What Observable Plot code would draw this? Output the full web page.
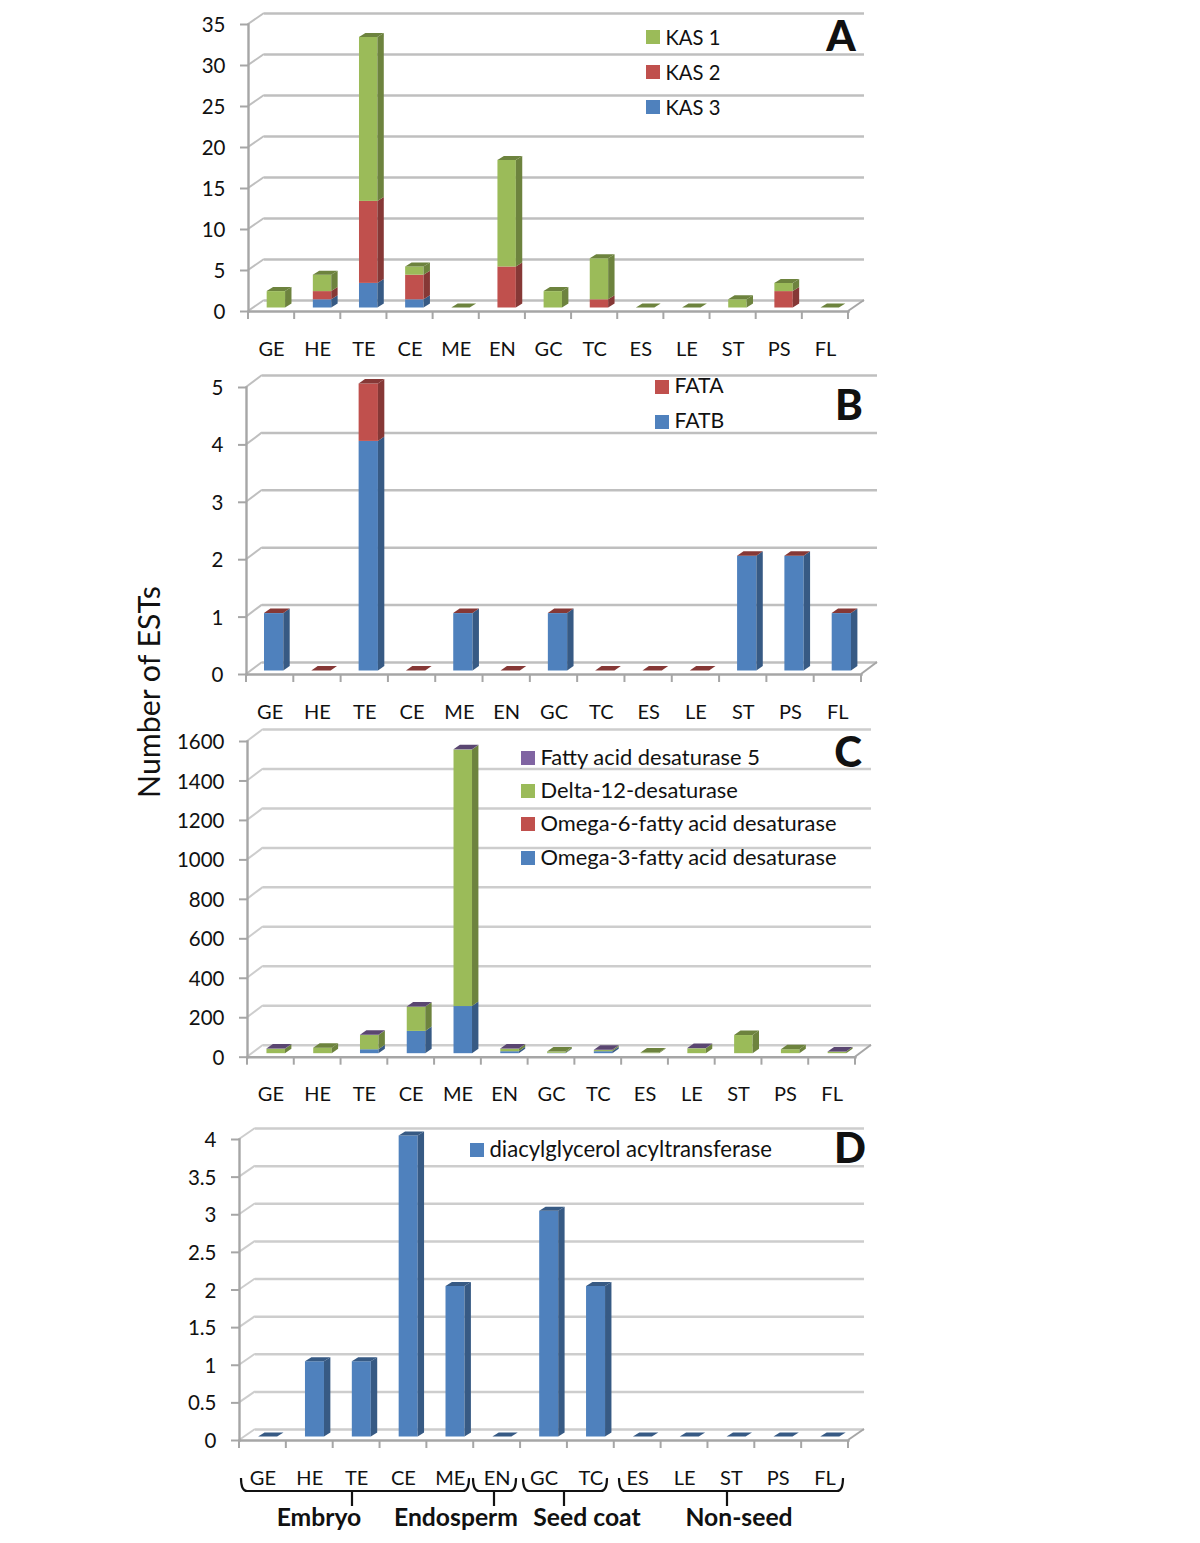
<!DOCTYPE html>
<html><head><meta charset="utf-8">
<script src="https://cdn.jsdelivr.net/npm/d3@7"></script>
<script src="https://cdn.jsdelivr.net/npm/@observablehq/plot@0.6"></script>
<style>
html,body{margin:0;padding:0;background:#fff}
#page{position:relative;width:1200px;height:1543px;overflow:hidden;font-family:Lato,sans-serif;color:#111}
#page svg{position:absolute;left:0;background:transparent;overflow:visible}
.t{position:absolute;white-space:nowrap;line-height:1;transform:translate(-50%,-50%)}
.leg{position:absolute;white-space:nowrap;line-height:1;transform:translateY(-50%)}
.sw{position:absolute;width:14px;height:14px}
</style></head><body><div id="page"></div>
<script>
const categories = ["GE","HE","TE","CE","ME","EN","GC","TC","ES","LE","ST","PS","FL"];

const blue = "#4f81bd", red = "#c0504d", green = "#9bbb59", purple = "#8064a2";

// Panel A
const kas3 = [0,1,3,1,0,0,0,0,0,0,0,0,0];
const kas2 = [0,1,10,3,0,5,0,1,0,0,0,2,0];
const kas1 = [2,2,20,1,0,13,2,5,0,0,1,1,0];
// Panel B
const fatb = [1,0,4,0,1,0,1,0,0,0,2,2,1];
const fata = [0,0,1,0,0,0,0,0,0,0,0,0,0];
// Panel C (null: no bar segment)
const omega3 = [0,0,20,113,239,10,2,10,0,0,0,0,0];
const omega6 = [0,0,0,0,0,0,0,0,0,0,0,0,0];
const delta12 = [23,28,72,123,1300,13,6,6,3,25,92,20,8];
const fad5 = [1,null,1,1,1,1,null,1,null,1,null,null,1];
// Panel D
const dgat = [0,1,1,4,2,0,3,2,0,0,0,0,0];

const ticksA = [0,5,10,15,20,25,30,35];
const ticksB = [0,1,2,3,4,5];
const ticksC = [0,200,400,600,800,1000,1200,1400,1600];
const ticksD = [0,0.5,1,1.5,2,2.5,3,3.5,4];

const page = document.getElementById("page");

function rowsOf(series){
  const rows = [];
  for (const [name, , values] of series)
    values.forEach((v,i)=>{ if (v !== null) rows.push({cat:categories[i], series:name, value:v}); });
  return rows;
}

function panel(o){
  const names = o.series.map(s=>s[0]);
  const rows = rowsOf(o.series);
  const band = (o.right-o.left)/categories.length;
  const inset = (band-o.barW)/2;
  const darker = c => d3.color(c).darker(1).formatHex();

  // Bars with side and top faces derived from each rect the library drew
  function faces(index, scales, values, dims, ctx, next){
    const g = next(index, scales, values, dims, ctx);
    const rects = [...g.querySelectorAll("rect")];
    const topByX = new Map();
    rects.forEach(r=>topByX.set(r.getAttribute("x"), r));
    const parent = rects.length ? rects[0].parentNode : g;
    const poly = (pts, fill)=>{
      const p = document.createElementNS("http://www.w3.org/2000/svg","polygon");
      p.setAttribute("points", pts.map(q=>q.join(",")).join(" "));
      p.setAttribute("fill", fill);
      parent.appendChild(p);
    };
    rects.forEach(r=>{
      const x=+r.getAttribute("x"), y=+r.getAttribute("y"), w=+r.getAttribute("width"), h=+r.getAttribute("height");
      const f=r.getAttribute("fill");
      if (h>0) poly([[x+w,y],[x+w+o.sx,y-o.sy],[x+w+o.sx,y+h-o.sy],[x+w,y+h]], darker(f));
      if (topByX.get(r.getAttribute("x"))===r)
        poly([[x,y],[x+o.sx,y-o.sy],[x+w+o.sx,y-o.sy],[x+w,y]], darker(f));
    });
    return g;
  }

  // Edge ticks on the category axis and the wall / floor diagonals, from the scales
  function cage(index, scales, values, dims){
    const g = d3.create("svg:g").attr("fill","none");
    const l = dims.marginLeft, r = dims.width-dims.marginRight, b = dims.height-dims.marginBottom;
    const step = (r-l)/categories.length;
    d3.range(categories.length+1).forEach(i=>{
      g.append("line").attr("x1",l+i*step).attr("x2",l+i*step).attr("y1",b).attr("y2",b+8)
        .attr("stroke","#a6a6a6").attr("stroke-width",2);
    });
    o.ticks.forEach(t=>{
      g.append("line").attr("x1",l).attr("y1",scales.y(t)).attr("x2",l+o.bx).attr("y2",scales.y(t)+o.by)
        .attr("stroke",o.wall).attr("stroke-width",2);
    });
    g.append("line").attr("x1",r).attr("y1",b).attr("x2",r+o.bx).attr("y2",b+o.by)
      .attr("stroke","#a6a6a6").attr("stroke-width",2);
    if (o.extra) o.extra(g, dims);
    return g.node();
  }

  const chart = Plot.plot({
    width:1200, height:o.bottom+o.below-o.top,
    marginLeft:o.left, marginRight:1200-o.right,
    marginTop:o.y1-o.top, marginBottom:o.below,
    style:{background:"transparent", fontFamily:"Lato, sans-serif", overflow:"visible"},
    x:{type:"band", domain:categories, padding:0, round:false, axis:null},
    y:{domain:[0,o.max], axis:null},
    color:{domain:names, range:o.series.map(s=>s[1])},
    marks:[
      Plot.ruleY(o.ticks,{dx:o.bx, dy:o.by, stroke:o.wall, strokeWidth:2.5}),
      cage,
      Plot.barY(rows,{x:"cat", y:"value", fill:"series", order:names,
        insetLeft:inset, insetRight:inset, dx:o.barDx, dy:-3.5, render:faces}),
      Plot.frame({anchor:"left", stroke:"#a6a6a6", strokeWidth:2.4}),
      Plot.frame({anchor:"bottom", stroke:"#a6a6a6", strokeWidth:2.4}),
      Plot.axisY({ticks:o.ticks, tickSize:8, stroke:"#a6a6a6", strokeWidth:2, text:null, label:null}),
      Plot.axisY({ticks:o.ticks, tickSize:0, tickPadding:23, dy:1,
        fill:"#111", fontSize:20.5, label:null, tickFormat:d=>String(d)}),
      Plot.axisX({tickSize:0, tickPadding:30, fill:"#111", fontSize:20, label:null})
    ]
  });
  chart.style.top = o.top+"px";
  page.appendChild(chart);

  o.legend.forEach(([name,color,y])=>{
    const s=document.createElement("div"); s.className="sw";
    s.style.cssText=`left:${o.legX}px;top:${y-6.5}px;background:${color}`;
    page.appendChild(s);
    const t=document.createElement("div"); t.className="leg"; t.textContent=name;
    t.style.left=(o.legX+19.5)+"px"; t.style.top=y+"px"; t.style.fontSize=o.legFont+"px";
    page.appendChild(t);
  });
  const L=document.createElement("div"); L.className="t"; L.textContent=o.letter;
  L.style.cssText=`left:${o.letterX}px;top:${o.letterY}px;font-size:42px;font-weight:900`;
  page.appendChild(L);
}

panel({letter:"A", letterX:841, letterY:35, top:0, y1:24, bottom:311, below:54, left:248, right:848,
  max:35, ticks:ticksA, barW:18.4, barDx:4.8, sx:6.4, sy:4, bx:16, by:-11, wall:"#bfbfbf",
  series:[["KAS 3",blue,kas3],["KAS 2",red,kas2],["KAS 1",green,kas1]],
  legX:646, legFont:20.2, legend:[["KAS 1",green,36.5],["KAS 2",red,71.5],["KAS 3",blue,106.5]]});

panel({letter:"B", letterX:849, letterY:404, top:365, y1:387, bottom:674, below:51, left:246, right:861,
  max:5, ticks:ticksB, barW:19.3, barDx:4, sx:6.4, sy:4.5, bx:16, by:-12, wall:"#bfbfbf",
  series:[["FATB",blue,fatb],["FATA",red,fata]],
  legX:655, legFont:21.2, legend:[["FATA",red,386],["FATB",blue,421]]});

panel({letter:"C", letterX:848, letterY:751, top:725, y1:741, bottom:1056.7, below:53, left:247, right:855,
  max:1600, ticks:ticksC, barW:18.5, barDx:5.3, sx:6.4, sy:4.5, bx:16, by:-12, wall:"#cdcdcd",
  series:[["Omega-3-fatty acid desaturase",blue,omega3],["Omega-6-fatty acid desaturase",red,omega6],
          ["Delta-12-desaturase",green,delta12],["Fatty acid desaturase 5",purple,fad5]],
  legX:521, legFont:21.9, legend:[["Fatty acid desaturase 5",purple,757],["Delta-12-desaturase",green,790],
                    ["Omega-6-fatty acid desaturase",red,823],["Omega-3-fatty acid desaturase",blue,857]]});

// Braces below panel D: [left, right, stem x]
const braces = [[241,469,352],[473,516,494],[523,607,564],[619,843,727]];
const braceTop = 1478, braceBar = 1491, braceStem = 1506;

panel({letter:"D", letterX:850, letterY:1147, top:1110, y1:1139, bottom:1440, below:103, left:239, right:848,
  max:4, ticks:ticksD, barW:19, barDx:5.2, sx:6.4, sy:4, bx:16, by:-11, wall:"#cdcdcd",
  series:[["diacylglycerol acyltransferase",blue,dgat]],
  legX:470, legFont:22.1, legend:[["diacylglycerol acyltransferase",blue,1149]],
  extra(g){
    const top=braceTop-1110, bar=braceBar-1110, stem=braceStem-1110;
    braces.forEach(([a,b,m])=>{
      g.append("path")
        .attr("d",`M${a},${top}Q${a},${bar} ${a+6},${bar}L${b-6},${bar}Q${b},${bar} ${b},${top}M${m},${bar}L${m},${stem}`)
        .attr("stroke","#111").attr("stroke-width",2.2).attr("fill","none");
    });
  }});

[["Embryo",319],["Endosperm",456],["Seed coat",587],["Non-seed",739]].forEach(([s,x])=>{
  const d=document.createElement("div"); d.className="t"; d.textContent=s;
  d.style.cssText=`left:${x}px;top:1517px;font-size:24.7px;font-weight:700`;
  page.appendChild(d);
});

const yt=document.createElement("div"); yt.className="t"; yt.textContent="Number of ESTs";
yt.style.cssText="left:148px;top:692px;font-size:30.3px;transform:translate(-50%,-50%) rotate(-90deg)";
page.appendChild(yt);
</script>
</body></html>
